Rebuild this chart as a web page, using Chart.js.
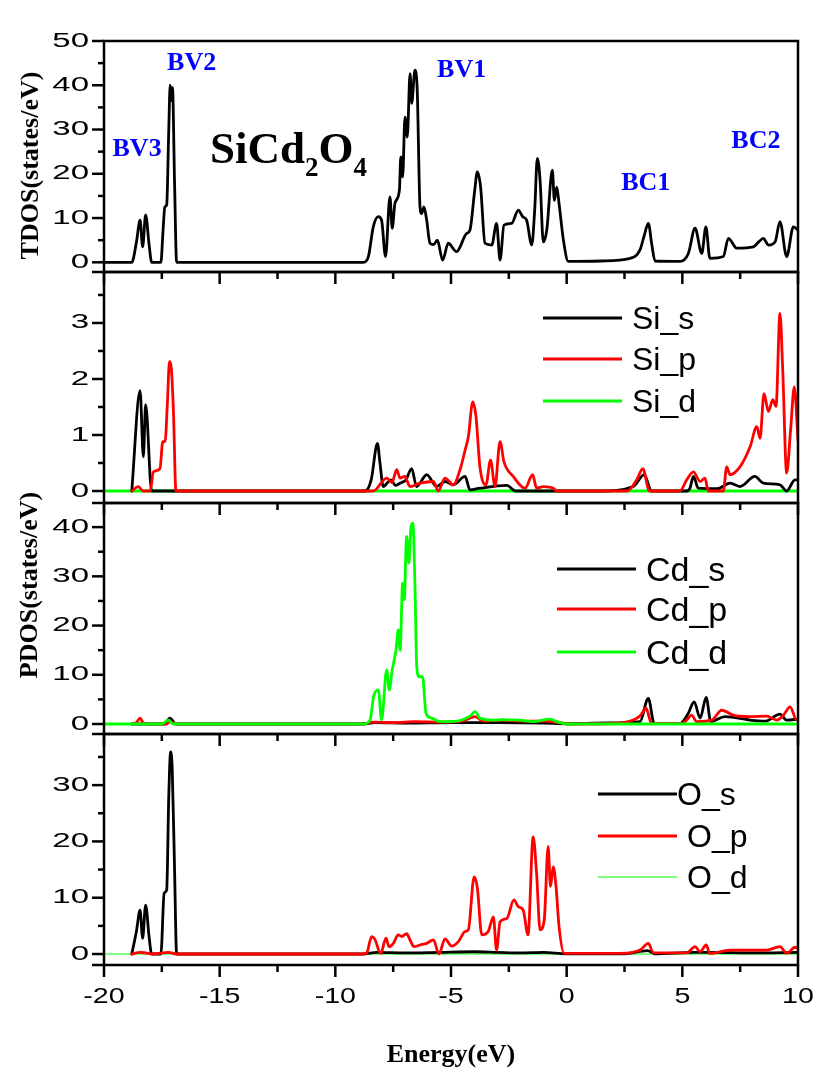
<!DOCTYPE html>
<html>
<head>
<meta charset="utf-8">
<title>SiCd2O4 density of states</title>
<script src="https://cdn.jsdelivr.net/npm/chart.js@4.4.1/dist/chart.umd.min.js"></script>
<style>
  html, body { margin: 0; padding: 0; background: #ffffff; }
  #wrap { position: relative; width: 818px; height: 1090px; }
</style>
</head>
<body>
<div id="wrap"><canvas id="dos"></canvas></div>
<script>
// ---------- data (energy in eV, DOS in states/eV) ----------
const energyRange = [-20, 10];
const energyTicks = [-20, -15, -10, -5, 0, 5, 10];

// total DOS
const tdosE = [-20, -18.8, -18.6, -18.44, -18.33, -18.2, -18.05, -17.94, -17.54, -17.45, -17.37, -17.29, -17.2, -17.14, -17.09, -17.04, -16.95, -16.86,
  -8.79, -8.57, -8.36, -8.14, -8.0, -7.83, -7.64, -7.54, -7.42, -7.23, -7.17, -7.09, -6.99, -6.89, -6.77, -6.7, -6.56, -6.46, -6.34, -6.27, -6.17, -6.05,
  -5.91, -5.75, -5.59, -5.36, -5.12, -4.76, -4.33, -4.18, -3.98, -3.86, -3.72, -3.53, -3.24, -3.03, -2.88, -2.71, -2.38, -2.09, -1.9, -1.73, -1.51,
  -1.38, -1.27, -1.15, -1.01, -0.86, -0.62, -0.53, -0.43, -0.33, -0.14, 0.07, 1.5, 2.74, 3.17, 3.35, 3.53, 3.68, 3.82, 4.9, 5.26, 5.55, 5.84, 6.02,
  6.19, 6.77, 6.99, 7.35, 8.07, 8.3, 8.5, 8.72, 9.01, 9.22, 9.51, 9.8, 10];
const tdosV = [0, 0, 4.5, 9.5, 3.5, 10.7, 4, 0, 0, 7, 12.5, 13, 30, 40, 36.6, 39.5, 18, 0,
  0, 1.3, 8, 10.3, 9.5, 1.3, 14.8, 7.7, 13.4, 16.3, 23.8, 19.3, 32.8, 28.3, 42.6, 35.9, 43.4, 38.9, 12.5, 11, 12.5, 9.5,
  4.3, 4.0, 5, 0.5, 4.3, 2.4, 6.5, 7.3, 16, 20.4, 17, 4.3, 3.9, 8.8, 0.5, 8.4, 8.8, 11.8, 10.3, 9.5, 3.9,
  12, 23.5, 18.6, 4.6, 7.3, 20.8, 14, 17, 13.3, 5, 0.2, 0.3, 0.9, 2.8, 6, 8.8, 4, 0.3, 0.2, 2, 7.7, 2, 8,
  0.9, 1.3, 5.4, 3.2, 3.5, 4.6, 5.4, 3.9, 4.6, 9.2, 1.3, 8, 7.3];

// Si partial DOS
const siSE = [-18.8, -18.44, -18.3, -18.2, -17.94, -8.72, -8.45, -8.18, -8.07, -7.93, -7.6, -7.4, -7.2, -6.95, -6.7, -6.49, -6.05, -5.62, -5.26, -4.9,
  -4.39, -4.18, -3.75, -2.59, -2.2, 1.44, 2.88, 3.35, 3.67, 5.2, 5.33, 5.48, 5.69, 6.5, 7.06, 7.49, 8.14, 8.5, 9.22, 9.51, 9.87, 10];
const siSV = [0, 1.79, 0.61, 1.54, 0, 0, 0.2, 0.85, 0.5, 0.08, 0.2, 0.1, 0.14, 0.2, 0.4, 0.08, 0.29, 0.08, 0.17, 0.11,
  0.26, 0.02, 0.05, 0.1, 0, 0, 0.08, 0.29, 0, 0, 0.05, 0.26, 0.05, 0.04, 0.14, 0.08, 0.26, 0.14, 0.11, 0, 0.2, 0.2];
const siPE = [-18.8, -18.52, -18.3, -18.0, -17.87, -17.58, -17.46, -17.36, -17.26, -17.17, -17.1, -17.0, -16.89, -8.8, -8.36, -7.78, -7.55, -7.35, -7.2,
  -7.0, -6.77, -6.34, -5.76, -5.55, -5.26, -4.9, -4.61, -4.39, -4.25, -4.06, -3.92, -3.75, -3.49, -3.29, -3.1, -2.88, -2.71, -2.31, -1.8, -1.47,
  -1.3, -1.01, -0.58, -0.43, 2.6, 3.03, 3.29, 3.58, 4.9, 5.19, 5.48, 5.77, 5.98, 6.12, 6.77, 6.92, 7.06, 7.49, 7.93, 8.22, 8.36, 8.53, 8.72,
  8.91, 9.05, 9.22, 9.34, 9.51, 9.68, 9.84, 10];
const siPV = [0, 0.08, 0, 0, 0.34, 0.4, 0.88, 0.88, 1.57, 2.31, 2.23, 1.45, 0, 0, 0, 0.23, 0.15, 0.38, 0.23,
  0.26, 0.08, 0.14, 0.17, 0, 0.23, 0.11, 0.38, 0.73, 0.97, 1.59, 1.33, 0.43, 0.11, 0.55, 0.08, 0.88, 0.52, 0.26, 0.05, 0.29,
  0.05, 0.08, 0.05, 0, 0, 0.2, 0.4, 0, 0, 0.2, 0.34, 0.17, 0.23, 0, 0, 0.43, 0.29, 0.43, 0.79, 1.15, 0.94, 1.74, 1.42,
  1.63, 1.51, 3.17, 2.16, 0.32, 1.09, 1.86, 0.9];
const siDE = [-20, -10, 0, 10];
const siDV = [0, 0, 0, 0];

// Cd partial DOS
const cdSE = [-18.8, -17.4, -17.15, -16.9, -8.8, -8.3, -6.9, -5, -3, -1, 0, 1.73, 3.17, 3.53, 3.78, 4.9, 5.26, 5.51, 5.77, 6.03, 6.23, 6.85,
  7.93, 8.6, 9.22, 9.51, 10];
const cdSV = [0, 0, 1.2, 0, 0, 0.3, 0.2, 0.3, 0.3, 0.2, 0.05, 0.2, 0.5, 5.2, 0.2, 0.1, 2.2, 4.5, 1.2, 5.4, 0.5, 1.5,
  0.8, 0.6, 2.0, 0.8, 1.0];
const cdPE = [-18.8, -18.6, -18.44, -18.3, -18.0, -17.3, -17.15, -16.9, -8.8, -8.4, -7.5, -6.5, -5.5, -4.5, -3.96, -3.6, -2.8, -2.0, -1.0, -0.3,
  0.1, 2.0, 2.88, 3.2, 3.43, 3.67, 5.0, 5.19, 5.4, 5.62, 6.27, 6.7, 7.2, 7.93, 8.65, 9.08, 9.37, 9.66, 9.94, 10];
const cdPV = [0, 0.3, 1.2, 0.2, 0, 0, 0.5, 0, 0, 0.4, 0.3, 0.5, 0.4, 0.6, 1.5, 0.6, 0.8, 0.6, 0.6, 0.3,
  0, 0.1, 0.8, 1.8, 3.2, 0.1, 0.1, 0.8, 1.8, 0.5, 0.8, 2.8, 1.8, 1.5, 1.6, 0.8, 1.8, 3.5, 0.8, 0.8];
const cdDE = [-20, -17.5, -17.22, -17.0, -8.79, -8.5, -8.33, -8.14, -8.0, -7.78, -7.67, -7.54, -7.38, -7.28, -7.2, -7.09, -7.02, -6.92, -6.82,
  -6.74, -6.65, -6.56, -6.48, -6.37, -6.23, -6.08, -5.84, -5.47, -4.75, -4.18, -3.96, -3.75, -3.18, -2.75, -2.02, -1.45, -0.72, -0.43, -0.14, 0.2, 10];
const cdDV = [0, 0, 0.8, 0, 0, 0.8, 5.9, 6.9, 0.8, 11, 6.9, 11, 15, 19.1, 15, 28.6, 25.2, 38.1, 32.7,
  39.4, 40.8, 28.6, 11.6, 9.6, 9.6, 2.2, 1.2, 0.5, 0.6, 1.6, 2.5, 1.2, 0.8, 0.9, 0.8, 0.5, 1.0, 0.5, 0.1, 0, 0];

// O partial DOS
const oSE = [-18.8, -18.6, -18.44, -18.33, -18.2, -18.05, -17.94, -17.54, -17.4, -17.29, -17.2, -17.12, -17.05, -16.95, -16.86, -8.8, -8.2, -7, -5.5,
  -4, -3, -2, -1, 0, 2.5, 3.5, 3.8, 5.5, 6.0, 8, 10];
const oSV = [0, 4, 7.8, 2.8, 8.7, 3, 0, 0, 10.8, 11.4, 28, 35.9, 32.7, 15, 0, 0, 0.3, 0.2, 0.3,
  0.4, 0.3, 0.2, 0.3, 0.05, 0.05, 0.6, 0.05, 0.3, 0.3, 0.2, 0.3];
const oPE = [-18.8, -18.44, -18.2, -17.9, -17.2, -16.9, -8.8, -8.64, -8.43, -8.29, -8.04, -7.81, -7.68, -7.49, -7.28, -7.13, -6.92, -6.77, -6.6,
  -6.34, -6.05, -5.76, -5.52, -5.26, -4.97, -4.68, -4.39, -4.25, -4.0, -3.86, -3.67, -3.39, -3.17, -3.03, -2.88, -2.59, -2.28, -2.09, -1.88,
  -1.67, -1.45, -1.3, -1.15, -0.97, -0.8, -0.7, -0.58, -0.46, -0.33, -0.11, 2.31, 3.17, 3.53, 3.75, 5.19, 5.55, 5.77, 6.03, 6.19, 7.06,
  8.65, 9.22, 9.51, 9.87, 10];
const oPV = [0, 0.3, 0.2, 0, 0.3, 0, 0, 0.2, 3.1, 2.6, 0.1, 2.8, 1.3, 1.9, 3.4, 3.1, 3.6, 2.5, 1.3,
  1.6, 1.9, 2.5, 0, 2.7, 1.4, 2.2, 4.0, 4.3, 13.7, 11.7, 3.4, 4.0, 6.6, 0.7, 5.7, 6.3, 9.6, 8.4, 7.8,
  3.4, 20.8, 14.3, 4.3, 6.0, 19.1, 12, 15.5, 12, 4.9, 0.1, 0.1, 0.7, 1.9, 0.2, 0.2, 1.3, 0.4, 1.6, 0.1, 0.7,
  0.7, 1.3, 0.1, 1.2, 1.0];
const oDE = [-20, -10, 0, 10];
const oDV = [0, 0, 0, 0];

// band labels placed in TDOS coordinates
const bandLabels = ['BV3', 'BV2', 'BV1', 'BC1', 'BC2'];
const bandLabelE = [-18.57, -16.21, -4.54, 3.42, 8.18];
const bandLabelV = [25.6, 45, 43.4, 17.9, 27.4];

// ---------- drawing ----------
const BLACK = '#000000', RED = '#ff0000', GREEN = '#00ff00', BLUE = '#0000ff';
const SERIF = '"Liberation Serif", "Times New Roman", serif';
const SANS = '"Liberation Sans", Arial, sans-serif';

const pts = (xs, ys) => xs.map((x, i) => ({ x, y: ys[i] }));
const series = (label, xs, ys, axis, color, order, width) => ({
  label, data: pts(xs, ys), yAxisID: axis, borderColor: color, backgroundColor: color,
  borderWidth: width || 2.8, order, fill: false
});

const datasets = [
  series('TDOS', tdosE, tdosV, 'yT', BLACK, 1),
  series('Si_s', siSE, siSV, 'ySi', BLACK, 2),
  series('Si_p', siPE, siPV, 'ySi', RED, 1),
  series('Si_d', siDE, siDV, 'ySi', GREEN, 3),
  series('Cd_s', cdSE, cdSV, 'yCd', BLACK, 3),
  series('Cd_p', cdPE, cdPV, 'yCd', RED, 2),
  series('Cd_d', cdDE, cdDV, 'yCd', GREEN, 1),
  series('O_s', oSE, oSV, 'yO', BLACK, 2),
  series('O_p', oPE, oPV, 'yO', RED, 1),
  series('O_d', oDE, oDV, 'yO', GREEN, 3, 1)
];

// panel legends: line start/end and text offsets from the plot's left edge, rows from the panel top
const panelLegends = [
  { axis: 'ySi', labels: ['Si_s', 'Si_p', 'Si_d'], x0: 439, x1: 518, tx: [528, 528, 528], rows: [46, 87, 129], size: 32 },
  { axis: 'yCd', labels: ['Cd_s', 'Cd_p', 'Cd_d'], x0: 453, x1: 532, tx: [542, 542, 542], rows: [66, 106, 149], size: 34 },
  { axis: 'yO', labels: ['O_s', 'O_p', 'O_d'], x0: 494, x1: 573, tx: [573, 583, 583], rows: [60, 102, 143], size: 32 }
];

const panelAxes = ['yT', 'ySi', 'yCd', 'yO'];

// tick numbers are drawn wide (horizontally stretched Arial)
const TICK_Y = { size: 20, stretch: 1.65, gap: 15 };
const TICK_X = { size: 22, stretch: 1.3, gap: 32 };

const yAxis = (min, max, step, weight) => ({
  type: 'linear', position: 'left', stack: 'dos', stackWeight: 1, weight,
  min, max,
  afterFit: s => { s.width = 104; },
  grid: { display: false },
  border: { display: false },
  ticks: { display: false, stepSize: step, includeBounds: false }
});

const wideText = (ctx, text, px, py, size, stretch, align) => {
  ctx.save();
  ctx.font = size + 'px ' + SANS;
  ctx.textBaseline = 'middle';
  ctx.textAlign = 'left';
  const w = ctx.measureText(text).width * stretch;
  const left = align === 'right' ? px - w : align === 'center' ? px - w / 2 : px;
  ctx.translate(left, py);
  ctx.scale(stretch, 1);
  ctx.fillText(text, 0, 0);
  ctx.restore();
};

const framePlugin = {
  id: 'frame',
  afterDatasetsDraw(chart) {
    const { ctx } = chart;
    const x = chart.scales.x;
    const seg = (x0, y0, x1, y1) => { ctx.beginPath(); ctx.moveTo(x0, y0); ctx.lineTo(x1, y1); ctx.stroke(); };
    ctx.save();
    ctx.strokeStyle = BLACK;
    ctx.fillStyle = BLACK;
    ctx.lineWidth = 2.5;
    ctx.lineCap = 'butt';
    panelAxes.forEach(id => {
      const s = chart.scales[id];
      ctx.strokeRect(x.left, s.top, x.right - x.left, s.bottom - s.top);
      const step = s.options.ticks.stepSize;
      const half = step / 2;
      for (let v = Math.ceil(s.min / half) * half; v <= s.max + 1e-9; v += half) {
        const major = Math.abs(v / step - Math.round(v / step)) < 1e-6;
        const py = s.getPixelForValue(v);
        seg(x.left - (major ? 12 : 6), py, x.left, py);
      }
      seg(x.left - 12, s.bottom, x.left, s.bottom);
      // tick numbers from the scale's own ticks
      s.ticks.forEach(t => {
        wideText(ctx, String(t.label !== undefined ? t.label : t.value), x.left - TICK_Y.gap, s.getPixelForValue(t.value), TICK_Y.size, TICK_Y.stretch, 'right');
      });
      for (let e = x.min; e <= x.max + 1e-9; e += 2.5) {
        const major = Math.abs(e / 5 - Math.round(e / 5)) < 1e-6;
        const px = x.getPixelForValue(e);
        seg(px, s.bottom, px, s.bottom + (major ? 12 : 7));
      }
    });
    // energy tick numbers under the last panel
    const last = chart.scales[panelAxes[panelAxes.length - 1]];
    x.ticks.forEach(t => {
      wideText(ctx, String(t.value), x.getPixelForValue(t.value), last.bottom + TICK_X.gap, TICK_X.size, TICK_X.stretch, 'center');
    });
    ctx.restore();
  },
  afterDraw(chart) {
    const { ctx } = chart;
    const x = chart.scales.x;
    const yT = chart.scales.yT;
    ctx.save();

    // band labels
    ctx.fillStyle = BLUE;
    ctx.font = 'bold 26px ' + SERIF;
    ctx.textAlign = 'center';
    ctx.textBaseline = 'middle';
    bandLabels.forEach((t, i) => ctx.fillText(t, x.getPixelForValue(bandLabelE[i]), yT.getPixelForValue(bandLabelV[i])));

    // compound formula with subscripts
    ctx.fillStyle = BLACK;
    ctx.textAlign = 'left';
    ctx.textBaseline = 'alphabetic';
    let fx = x.getPixelForValue(-15.42);
    const fy = yT.getPixelForValue(22.4);
    [['SiCd', 45, 0], ['2', 27, 13], ['O', 45, 0], ['4', 27, 13]].forEach(([t, size, drop]) => {
      ctx.font = 'bold ' + size + 'px ' + SERIF;
      ctx.fillText(t, fx, fy + drop);
      fx += ctx.measureText(t).width;
    });

    // legends
    panelLegends.forEach(lg => {
      const s = chart.scales[lg.axis];
      lg.labels.forEach((lab, i) => {
        const ds = chart.data.datasets.find(d => d.label === lab);
        const ly = s.top + lg.rows[i];
        ctx.strokeStyle = ds.borderColor;
        ctx.lineWidth = ds.borderWidth >= 2 ? 3 : 1;
        ctx.beginPath();
        ctx.moveTo(x.left + lg.x0, ly);
        ctx.lineTo(x.left + lg.x1, ly);
        ctx.stroke();
        ctx.fillStyle = BLACK;
        ctx.font = lg.size + 'px ' + SANS;
        ctx.textAlign = 'left';
        ctx.textBaseline = 'alphabetic';
        ctx.fillText(lab, x.left + lg.tx[i], ly + lg.size * 0.358);
      });
    });

    // axis titles
    ctx.fillStyle = BLACK;
    ctx.font = 'bold 26px ' + SERIF;
    ctx.textAlign = 'center';
    ctx.textBaseline = 'middle';
    const vTitle = (t, cx, cy) => {
      ctx.save();
      ctx.translate(cx, cy);
      ctx.rotate(-Math.PI / 2);
      ctx.fillText(t, 0, 0);
      ctx.restore();
    };
    vTitle('TDOS(states/eV)', 31, (yT.top + yT.bottom) / 2 + 9);
    const ySi = chart.scales.ySi, yCd = chart.scales.yCd;
    vTitle('PDOS(states/eV)', 30, (ySi.top + yCd.bottom) / 2 + 82);
    ctx.fillText('Energy(eV)', (x.left + x.right) / 2, x.bottom - 35);
    ctx.restore();
  }
};

new Chart(document.getElementById('dos'), {
  type: 'line',
  data: { datasets },
  options: {
    responsive: true,
    maintainAspectRatio: false,
    animation: false,
    layout: { padding: { top: 41, right: 20, bottom: 0, left: 0 } },
    plugins: { legend: { display: false }, tooltip: { enabled: false } },
    elements: {
      point: { radius: 0 },
      line: { cubicInterpolationMode: 'monotone', borderJoinStyle: 'round', borderCapStyle: 'round' }
    },
    scales: {
      x: {
        type: 'linear', position: 'bottom', min: energyRange[0], max: energyRange[1],
        afterFit: s => { s.height = 125; },
        afterBuildTicks: s => { s.ticks = energyTicks.map(v => ({ value: v })); },
        grid: { display: false },
        border: { display: false },
        ticks: { display: false }
      },
      yT: yAxis(-2.19, 50, 10, 4),
      ySi: yAxis(-0.214, 3.91, 1, 3),
      yCd: yAxis(-2.03, 44.9, 10, 2),
      yO: yAxis(-1.95, 39.08, 10, 1)
    }
  },
  plugins: [framePlugin]
});
</script>
</body>
</html>
